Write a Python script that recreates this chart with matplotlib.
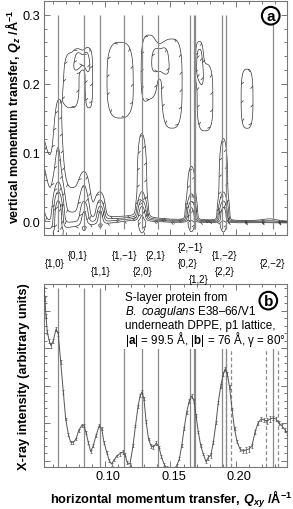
import numpy as np
import matplotlib.pyplot as plt
from matplotlib import patheffects
from matplotlib import transforms
from matplotlib.patches import Rectangle
from matplotlib.ticker import MultipleLocator

plt.rcParams['font.family'] = ['Liberation Sans', 'DejaVu Sans']
plt.rcParams['mathtext.fontset'] = 'custom'
plt.rcParams['mathtext.rm'] = 'Liberation Sans'
plt.rcParams['mathtext.it'] = 'Liberation Sans:italic'
plt.rcParams['mathtext.bf'] = 'Liberation Sans:bold'
plt.rcParams['mathtext.bfit'] = 'Liberation Sans:italic:bold'

# Bragg rods of the p1 lattice (|a| = 99.5 A, |b| = 76 A, gamma = 80 deg), Qxy in 1/A
hk_labels = ['{1,0}', '{0,1}', '{1,1}', '{1,\u22121}', '{2,0}', '{2,1}',
             '{2,\u22121}', '{0,2}', '{1,2}', '{1,\u22122}', '{2,2}', '{2,\u22122}']
hk_q = [0.0641, 0.0840, 0.0964, 0.1141, 0.1282, 0.1406,
        0.1650, 0.1679, 0.1690, 0.1898, 0.1928, 0.2283]
hk_row = [2, 1, 3, 1, 3, 1, 0, 2, 4, 1, 3, 2]
hk_shift = [-3, -6, 0, 1, 1, -2, 1, -6, 3, 2, -2, 0]
# third order rods, dashed in panel b
third_q = [0.1924, 0.1961, 0.2229, 0.2323]

# Qz-integrated GID scan (panel b)
q_scan = [0.0532, 0.0539, 0.0547, 0.0557, 0.0572, 0.0585, 0.0603, 0.0624, 0.0641, 0.0660,
          0.0680, 0.0698, 0.0718, 0.0736, 0.0756, 0.0777, 0.0797, 0.0820, 0.0838, 0.0853,
          0.0871, 0.0889, 0.0909, 0.0930, 0.0955, 0.0974, 0.0991, 0.1012, 0.1032, 0.1049,
          0.1068, 0.1088, 0.1110, 0.1133, 0.1152, 0.1171, 0.1190, 0.1213, 0.1232, 0.1252,
          0.1269, 0.1282, 0.1297, 0.1313, 0.1332, 0.1351, 0.1370, 0.1392, 0.1412, 0.1431,
          0.1451, 0.1470, 0.1489, 0.1508, 0.1527, 0.1548, 0.1568, 0.1586, 0.1604, 0.1624,
          0.1644, 0.1661, 0.1680, 0.1696, 0.1713, 0.1732, 0.1751, 0.1772, 0.1790, 0.1808,
          0.1828, 0.1849, 0.1866, 0.1885, 0.1905, 0.1918, 0.1935, 0.1952, 0.1971, 0.1990,
          0.2010, 0.2032, 0.2055, 0.2078, 0.2101, 0.2124, 0.2147, 0.2170, 0.2193, 0.2216,
          0.2239, 0.2262, 0.2285, 0.2308, 0.2331, 0.2354, 0.2377, 0.2392]
i_scan = [0.973, 0.918, 0.825, 0.738, 0.690, 0.663, 0.690, 0.754, 0.727, 0.572,
          0.408, 0.262, 0.180, 0.135, 0.135, 0.153, 0.198, 0.226, 0.226, 0.190,
          0.135, 0.084, 0.116, 0.171, 0.226, 0.208, 0.135, 0.080, 0.034, 0.016,
          0.038, 0.060, 0.071, 0.082, 0.066, 0.022, 0.016, 0.115, 0.224, 0.333,
          0.393, 0.410, 0.372, 0.251, 0.153, 0.115, 0.109, 0.131, 0.109, 0.055,
          0.016, -0.005, -0.016, -0.016, -0.011, 0.007, 0.044, 0.116, 0.208, 0.299,
          0.362, 0.388, 0.361, 0.279, 0.191, 0.115, 0.071, 0.029, 0.053, 0.062,
          0.135, 0.244, 0.354, 0.444, 0.508, 0.536, 0.508, 0.437, 0.317, 0.208,
          0.137, 0.098, 0.087, 0.093, 0.098, 0.115, 0.191, 0.240, 0.262, 0.257,
          0.251, 0.262, 0.268, 0.262, 0.240, 0.224, 0.202, 0.186]
i_err = [0.012, 0.012, 0.012, 0.012, 0.012, 0.012, 0.012, 0.012, 0.012, 0.010,
         0.010, 0.008, 0.008, 0.008, 0.008, 0.008, 0.008, 0.008, 0.008, 0.008,
         0.008, 0.008, 0.008, 0.008, 0.008, 0.008, 0.008, 0.008, 0.008, 0.008,
         0.008, 0.008, 0.010, 0.010, 0.008, 0.008, 0.008, 0.008, 0.008, 0.008,
         0.008, 0.008, 0.008, 0.008, 0.008, 0.010, 0.010, 0.010, 0.008, 0.008,
         0.008, 0.008, 0.010, 0.010, 0.008, 0.008, 0.008, 0.008, 0.008, 0.008,
         0.010, 0.010, 0.010, 0.008, 0.008, 0.008, 0.008, 0.010, 0.014, 0.014,
         0.008, 0.008, 0.008, 0.010, 0.012, 0.012, 0.012, 0.010, 0.008, 0.008,
         0.008, 0.010, 0.012, 0.014, 0.014, 0.012, 0.010, 0.010, 0.012, 0.012,
         0.014, 0.014, 0.012, 0.012, 0.010, 0.010, 0.012, 0.012]

# intensity map (panel a): features
# centre (Qxy, Qz), widths (Qxy, Qz), height in units of the lowest contour,
# shape exponents along Qxy and Qz
peak_q = [0.046, 0.075,
          0.0641, 0.0641, 0.0840, 0.0840, 0.0964, 0.0964,
          0.1282, 0.1282, 0.1660, 0.1660, 0.1905, 0.1905,
          0.0745, 0.0876, 0.0820, 0.1114, 0.1336, 0.1425, 0.1512, 0.1764, 0.1720, 0.2086,
          0.226]
peak_qz = [0.0, 0.0,
           0.0, 0.005, 0.0, 0.005, 0.0, 0.005,
           0.0, 0.005, 0.0, 0.005, 0.0, 0.005,
           0.205, 0.207, 0.235, 0.205, 0.225, 0.235, 0.200, 0.180, 0.235, 0.178,
           0.0]
peak_wq = [0.011, 0.020,
           0.0045, 0.003, 0.004, 0.003, 0.004, 0.0025,
           0.0055, 0.003, 0.005, 0.003, 0.005, 0.003,
           0.0068, 0.0035, 0.0050, 0.0123, 0.0067, 0.0050, 0.0095, 0.0074, 0.0030, 0.0056,
           0.010]
peak_wqz = [0.12, 0.07,
            0.20, 0.03, 0.075, 0.02, 0.045, 0.015,
            0.151, 0.02, 0.10, 0.02, 0.145, 0.02,
            0.049, 0.052, 0.015, 0.068, 0.056, 0.020, 0.080, 0.060, 0.030, 0.053,
            0.012]
peak_amp = [4.0, 1.6,
            1.7, 14.0, 1.3, 3.5, 1.4, 5.0,
            1.6, 8.0, 1.5, 7.0, 1.6, 7.0,
            1.7, 1.7, 1.7, 1.7, 1.7, 1.7, 1.7, 1.7, 1.7, 1.7,
            0.9]
peak_pq = [2, 2,
           2, 2, 2, 2, 2, 2,
           2, 2, 2, 2, 2, 2,
           3, 3, 3, 3, 3, 3, 3, 3, 3, 3,
           2]
peak_pz = [2, 2,
           4, 2, 4, 2, 4, 2,
           4, 2, 4, 2, 4, 2,
           3, 3, 3, 3, 3, 3, 3, 3, 3, 3,
           2]
# steep intensity rise towards the horizon (Qz -> 0)
horizon_q = [0.053, 0.09, 0.12, 0.15, 0.24]
horizon_top = [0.0, 0.004, 0.008, 0.003, 0.0]
horizon_width = [0.010, 0.006, 0.004, 0.0025, 0.0015]
horizon_cap = 6.0
levels = [1, 1.8, 3.2, 5.6, 10, 18]

xlim = (0.0532, 0.2392)

qx = np.linspace(xlim[0], xlim[1], 600)
qz = np.linspace(-0.02, 0.32, 450)
QX, QZ = np.meshgrid(qx, qz)
field = np.exp((np.interp(QX, horizon_q, horizon_top) - QZ) / np.interp(QX, horizon_q, horizon_width))
field = np.minimum(field, horizon_cap)
for q0, z0, wq, wz, amp, pq, pz in zip(peak_q, peak_qz, peak_wq, peak_wqz, peak_amp, peak_pq, peak_pz):
	field += amp * np.exp(-np.abs((QX - q0) / wq) ** pq - np.abs((QZ - z0) / wz) ** pz)


fig = plt.figure(figsize=(2.93, 5.10), dpi=100)
ax_a = fig.add_axes([0.1502, 0.5373, 0.8294, 0.4588])
ax_b = fig.add_axes([0.1502, 0.0824, 0.8294, 0.3588])

frame_col = '#777777'
for ax in (ax_a, ax_b):
	ax.set_xlim(*xlim)
	ax.xaxis.set_major_locator(MultipleLocator(0.05))
	ax.xaxis.set_minor_locator(MultipleLocator(0.01))
	ax.tick_params(which='both', direction='in', top=True, right=True, color=frame_col,
	               width=0.7, labelsize=9.2, pad=2.5)
	ax.tick_params(which='major', length=4.5)
	ax.tick_params(which='minor', length=2.5)
	for sp in ax.spines.values():
		sp.set_color(frame_col)
		sp.set_linewidth(0.8)

# panel a: contour map
ax_a.set_ylim(-0.02, 0.32)
ax_a.yaxis.set_major_locator(MultipleLocator(0.1))
ax_a.yaxis.set_minor_locator(MultipleLocator(0.02))
ax_a.tick_params(labelbottom=False)

cs = ax_a.contour(QX, QZ, field, levels=levels, colors='#333333', linewidths=0.5)
cs.set_path_effects([patheffects.withTickedStroke(spacing=12, length=0.2, angle=135)])
ax_a.vlines(hk_q, -0.011, 0.30, color='#8a8a8a', lw=0.9, zorder=3)

ax_a.set_ylabel(r'vertical momentum transfer, $\mathbfit{Q}_{\mathbfit{z}}$ /Å$^{\mathbf{-1}}$',
                fontsize=9, fontweight='bold')
ax_a.yaxis.set_label_coords(-0.086, 0.51)
ax_a.text(0.933, 0.937, 'a', transform=ax_a.transAxes, ha='center', va='center',
          fontsize=11, fontweight='bold', zorder=6,
          bbox=dict(boxstyle='circle,pad=0.12', fc='white', ec='black', lw=1.5))

# Miller indices between the panels
base = transforms.blended_transform_factory(ax_a.transData, fig.transFigure)
for lab, q, row, dx in zip(hk_labels, hk_q, hk_row, hk_shift):
	tr = transforms.offset_copy(base, fig=fig, x=dx, y=0, units='dots')
	fig.text(q, 1 - (248 + 8 * row) / 510, lab, transform=tr, ha='center', va='center', fontsize=7)

# panel b: GID scan
ax_b.set_ylim(0, 1)
ax_b.yaxis.set_major_locator(MultipleLocator(0.205, offset=0.033))
ax_b.yaxis.set_minor_locator(MultipleLocator(0.041, offset=0.033))
ax_b.tick_params(labelleft=False)

ax_b.vlines(hk_q, 0, 0.978, color='#8a8a8a', lw=0.9, zorder=1)
ax_b.vlines(third_q, 0, 0.978, color='#8a8a8a', lw=0.9, linestyles=(0, (3, 2)), zorder=1)
ax_b.add_patch(Rectangle((0.313, 0.645), 0.687, 0.355, transform=ax_b.transAxes,
                         fc='white', ec='none', zorder=1.5))
ax_b.errorbar(q_scan, i_scan, yerr=i_err, color='#555555', lw=0.7, elinewidth=0.5,
              capsize=1.0, capthick=0.5, zorder=3)

info_lines = ['S-layer protein from',
              r'$\mathit{B.\ coagulans}$ E38–66/V1',
              'underneath DPPE, p1 lattice,',
              r'|$\mathbf{a}$| = 99.5 Å, |$\mathbf{b}$| = 76 Å, γ = 80°']
for k, line in enumerate(info_lines):
	ax_b.text(0.333, 0.93 - k * 0.0765, line, transform=ax_b.transAxes, ha='left', va='center',
	          fontsize=8.4, zorder=5)
ax_b.text(0.923, 0.909, 'b', transform=ax_b.transAxes, ha='center', va='center',
          fontsize=11, fontweight='bold', zorder=6,
          bbox=dict(boxstyle='circle,pad=0.12', fc='white', ec='black', lw=1.5))

ax_b.set_ylabel('X-ray intensity (arbitrary units)', fontsize=9.3, fontweight='bold')
ax_b.yaxis.set_label_coords(-0.056, 0.5)
ax_b.set_xlabel(r'horizontal momentum transfer, $\mathbfit{Q}_{\mathbfit{xy}}$ /Å$^{\mathbf{-1}}$',
                fontsize=9.3, fontweight='bold')
ax_b.xaxis.set_label_coords(0.523, -0.115)

# tick labels of the scan sit slightly right of their ticks
shift = transforms.ScaledTranslation(3 / 100, 0, fig.dpi_scale_trans)
for lab in ax_b.get_xticklabels():
	lab.set_transform(lab.get_transform() + shift)

fig.savefig('out.png', dpi=100)
